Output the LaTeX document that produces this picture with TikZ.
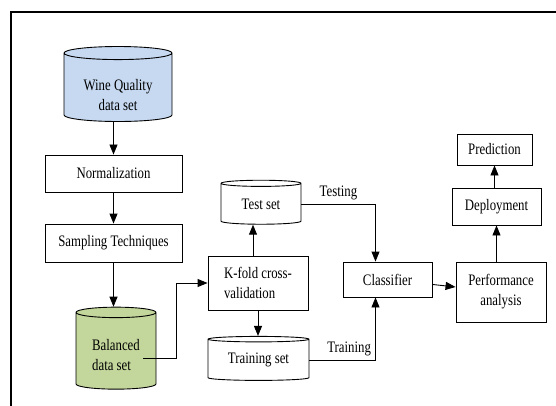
\documentclass[tikz,border=0pt]{standalone}
\usepackage{fontspec}
\setmainfont{Liberation Serif}[FakeStretch=0.8]
\usetikzlibrary{arrows.meta,positioning,calc,shapes.geometric}
\definecolor{wineblue}{RGB}{198,217,241}
\definecolor{balgreen}{RGB}{195,214,155}

\begin{document}
\begin{tikzpicture}[x=1pt,y=-1pt,
  box/.style={draw,line width=0.9pt,inner sep=0pt,align=center,font=\fontsize{16}{20}\selectfont},
  db/.style={box,cylinder,shape border rotate=90},
  arr/.style={-{Triangle[length=10pt,width=8pt]},line width=0.9pt}]
  \useasboundingbox (0,0) rectangle (556,406);
  \draw[line width=1.5pt] (556,12) -- (11,12) -- (11,406);
  % data preparation
  \node[db,fill=wineblue,minimum width=108pt,minimum height=75pt,aspect=0.19] (wine) at (118,87.5) {\rule{0pt}{27pt}Wine Quality\\data set};
  \node[box,minimum width=137pt,minimum height=37pt] (norm) at (113.5,173.5) {Normalization};
  \node[box,minimum width=137pt,minimum height=38pt] (samp) at (113.5,243) {Sampling Techniques};
  \node[db,fill=balgreen,align=left,minimum width=80pt,minimum height=82pt,aspect=0.22] (bal) at (116,351) {\rule{0pt}{20pt}Balanced\\data set};
  % validation
  \node[box,align=left,minimum width=100pt,minimum height=54pt] (kfold) at (258,283) {K-fold cross-\\validation};
  \node[db,minimum width=80pt,minimum height=44pt,aspect=0.16] (test) at (261,204) {Test set};
  \node[db,minimum width=101pt,minimum height=44pt,aspect=0.09] (train) at (258.5,360) {Training set};
  % model
  \node[box,minimum width=89pt,minimum height=35pt] (clf) at (387.5,279.5) {Classifier};
  \node[box,minimum width=90pt,minimum height=60pt] (perf) at (501,292) {Performance\\analysis};
  \node[box,minimum width=89pt,minimum height=37pt] (depl) at (496.5,206.5) {Deployment};
  \node[box,minimum width=75pt,minimum height=31pt] (pred) at (494.5,149.5) {Prediction};

  \coordinate (balout) at (143,358);
  \draw[arr] (wine.south -| norm.north) -- (norm.north);
  \draw[arr] (norm) -- (samp);
  \draw[arr] (samp.south) -- (samp.south |- bal.north);
  \draw[arr] (balout) -- (176,358) |- (kfold.west);
  \draw[arr] ([xshift=-5pt]kfold.north) -- ([xshift=-5pt]kfold.north |- test.south);
  \draw[arr] (kfold.south) -- (kfold.south |- train.north);
  \draw[arr] (test.east) -| node[pos=0.25,above,font=\fontsize{16}{18}\selectfont]{Testing} ([xshift=-12pt]clf.north);
  \draw[arr] (train.east) -| node[pos=0.3,above,font=\fontsize{16}{18}\selectfont]{Training} ([xshift=-12pt]clf.south);
  \draw[arr] (clf) -- (perf);
  \draw[arr] (perf.north -| depl.south) -- (depl.south);
  \draw[arr] (depl.north -| pred.south) -- (pred.south);
\end{tikzpicture}
\end{document}
